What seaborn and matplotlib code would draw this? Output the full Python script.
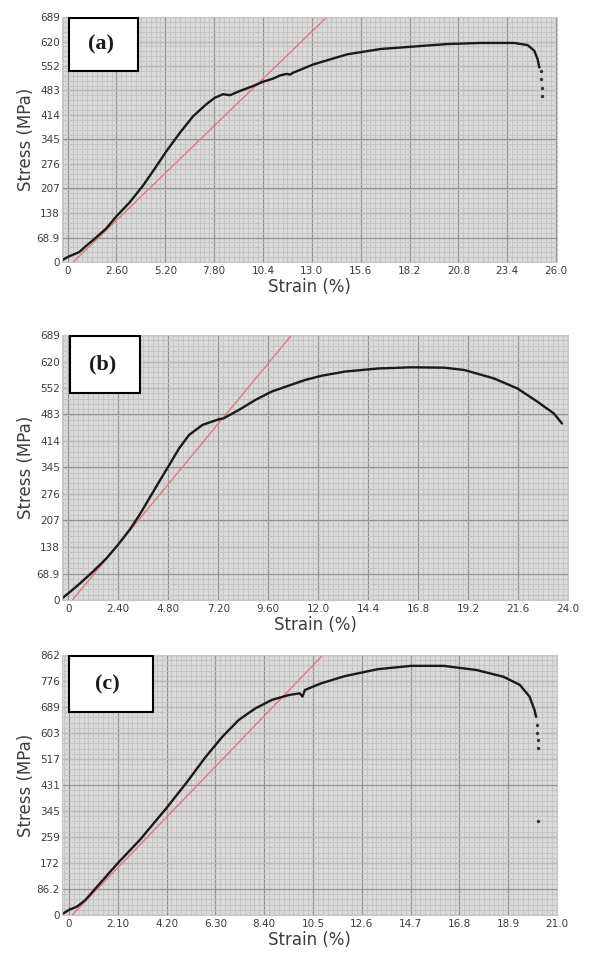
import numpy as np
import matplotlib
matplotlib.use('Agg')
import matplotlib.pyplot as plt
import seaborn as sns
from matplotlib.patches import Rectangle
from matplotlib.ticker import FixedLocator, AutoMinorLocator

# ---- data ----
strain_a = [-0.36, 0.0, 0.62, 0.89, 1.34, 2.05, 2.62, 3.29, 4.0, 4.72, 5.25, 5.97, 6.68, 7.39,
            7.84, 8.28, 8.64, 9.17, 9.88, 10.4, 10.95, 11.32, 11.66, 11.84, 12.03, 13.1, 14.88,
            16.66, 18.43, 20.22, 22.0, 23.77, 24.49, 24.84, 25.02, 25.11]
stress_a = [3, 14, 28, 41, 61, 94, 130, 167, 214, 269, 311, 363, 410, 444,
            462, 472, 469, 481, 495, 507, 516, 525, 529, 527, 533, 556, 584,
            599, 606, 613, 616, 616, 610, 594, 570, 547]
tail_strain_a = [25.18, 25.2, 25.24, 25.27]
tail_stress_a = [537, 514, 490, 467]
red_strain_a = [0.3, 13.8]
red_stress_a = [0, 689]

strain_b = [-0.4, 0.0, 0.56, 1.19, 1.83, 2.38, 2.94, 3.42, 3.89, 4.37, 4.85, 5.32, 5.8, 6.44,
            6.91, 7.31, 7.45, 8.19, 8.98, 9.77, 10.57, 11.37, 12.16, 13.3, 14.89, 16.48,
            18.07, 19.02, 20.45, 21.57, 22.52, 23.32, 23.71]
stress_b = [0, 17, 43, 74, 108, 143, 182, 221, 264, 308, 351, 394, 429, 455,
            464, 471, 472, 494, 520, 542, 557, 572, 583, 594, 602, 605,
            604, 598, 576, 550, 516, 485, 459]
red_strain_b = [0.2, 10.73]
red_stress_b = [0, 689]

strain_c = [-0.35, 0.0, 0.35, 0.71, 1.21, 2.09, 3.05, 4.19, 5.04, 5.89, 6.6, 7.31, 8.02,
            8.73, 9.44, 9.93, 10.05, 10.15, 10.85, 11.87, 13.29, 14.71, 16.13, 17.55,
            18.69, 19.4, 19.82, 20.03, 20.1]
stress_c = [0, 17, 28, 50, 94, 171, 249, 354, 437, 525, 591, 647, 685,
            713, 729, 735, 724, 746, 768, 792, 815, 826, 826, 812,
            790, 763, 724, 680, 657]
tail_strain_c = [20.13, 20.15, 20.17, 20.18, 20.18]
tail_stress_c = [630, 603, 580, 553, 310]
red_strain_c = [0.14, 10.93]
red_stress_c = [0, 862]

xticks_a = [0, 2.6, 5.2, 7.8, 10.4, 13.0, 15.6, 18.2, 20.8, 23.4, 26.0]
xlabels_a = ['0', '2.60', '5.20', '7.80', '10.4', '13.0', '15.6', '18.2', '20.8', '23.4', '26.0']
xticks_b = [0, 2.4, 4.8, 7.2, 9.6, 12.0, 14.4, 16.8, 19.2, 21.6, 24.0]
xlabels_b = ['0', '2.40', '4.80', '7.20', '9.60', '12.0', '14.4', '16.8', '19.2', '21.6', '24.0']
xticks_c = [0, 2.1, 4.2, 6.3, 8.4, 10.5, 12.6, 14.7, 16.8, 18.9, 21.0]
xlabels_c = ['0', '2.10', '4.20', '6.30', '8.40', '10.5', '12.6', '14.7', '16.8', '18.9', '21.0']
yticks_ab = [0, 68.9, 138, 207, 276, 345, 414, 483, 552, 620, 689]
ylabels_ab = ['0', '68.9', '138', '207', '276', '345', '414', '483', '552', '620', '689']
yticks_c = [0, 86.2, 172, 259, 345, 431, 517, 603, 689, 776, 862]
ylabels_c = ['0', '86.2', '172', '259', '345', '431', '517', '603', '689', '776', '862']

sns.set_style('white')
plt.rcParams['font.family'] = ['DejaVu Sans']

W, H = 592, 956
fig = plt.figure(figsize=(W / 100, H / 100), dpi=100)


def px_axes(left, top, right, bottom):
    return fig.add_axes([left / W, 1 - bottom / H, (right - left) / W, (bottom - top) / H])


panels = [
    dict(box=(62, 17, 557, 262), xlim=(-0.3, 26.05), ylim=(0, 689), x=strain_a, y=stress_a,
         tx=tail_strain_a, ty=tail_stress_a, rx=red_strain_a, ry=red_stress_a,
         xt=xticks_a, xl=xlabels_a, yt=yticks_ab, yl=ylabels_ab, tag='(a)', tagw=0.138),
    dict(box=(62, 335, 568, 600), xlim=(-0.3, 24.0), ylim=(0, 689), x=strain_b, y=stress_b,
         tx=[], ty=[], rx=red_strain_b, ry=red_stress_b,
         xt=xticks_b, xl=xlabels_b, yt=yticks_ab, yl=ylabels_ab, tag='(b)', tagw=0.14),
    dict(box=(62, 655, 557, 915), xlim=(-0.3, 21.0), ylim=(0, 862), x=strain_c, y=stress_c,
         tx=tail_strain_c, ty=tail_stress_c, rx=red_strain_c, ry=red_stress_c,
         xt=xticks_c, xl=xlabels_c, yt=yticks_c, yl=ylabels_c, tag='(c)', tagw=0.168),
]

for p in panels:
    ax = px_axes(*p['box'])
    ax.set_facecolor('#dadada')
    ax.set_xlim(*p['xlim'])
    ax.set_ylim(*p['ylim'])
    ax.xaxis.set_major_locator(FixedLocator(p['xt']))
    ax.yaxis.set_major_locator(FixedLocator(p['yt']))
    ax.set_xticklabels(p['xl'])
    ax.set_yticklabels(p['yl'])
    ax.xaxis.set_minor_locator(AutoMinorLocator(10))
    ax.yaxis.set_minor_locator(AutoMinorLocator(5))
    ax.grid(which='minor', color='#c2c2c2', linewidth=0.6)
    ax.grid(which='major', color='#939393', linewidth=0.9)
    ax.set_axisbelow(True)
    ax.tick_params(which='both', length=0, labelsize=7.5, labelcolor='#3c3c3c')
    ax.tick_params(axis='x', pad=3)
    ax.tick_params(axis='y', pad=1.5)
    for s in ax.spines.values():
        s.set_color('#c8c8c8')
        s.set_linewidth(0.8)

    sns.lineplot(x=p['rx'], y=p['ry'], ax=ax, color='#e07a7a', linewidth=1.0,
                 sort=False, estimator=None)
    sns.lineplot(x=p['x'], y=p['y'], ax=ax, color='#1a1a1a', linewidth=1.7,
                 sort=False, estimator=None)
    if p['tx']:
        ax.scatter(p['tx'], p['ty'], s=2, color='#333333', zorder=3)

    ax.set_xlabel('Strain (%)', fontsize=12, color='#3c3c3c', labelpad=1)
    ax.set_ylabel('Stress (MPa)', fontsize=12, color='#3c3c3c', labelpad=1)

    h = 0.215
    ax.add_patch(Rectangle((0.015, 1 - h - 0.004), p['tagw'], h, transform=ax.transAxes,
                           facecolor='white', edgecolor='black', linewidth=1.5, zorder=5))
    ax.text(0.015 + p['tagw'] * 0.46, 1 - h / 2 - 0.004, p['tag'], transform=ax.transAxes,
            ha='center', va='center', fontsize=16, fontweight='bold',
            family='Liberation Serif', color='#1a1a1a', zorder=6)

fig.savefig('out.png', dpi=100)
